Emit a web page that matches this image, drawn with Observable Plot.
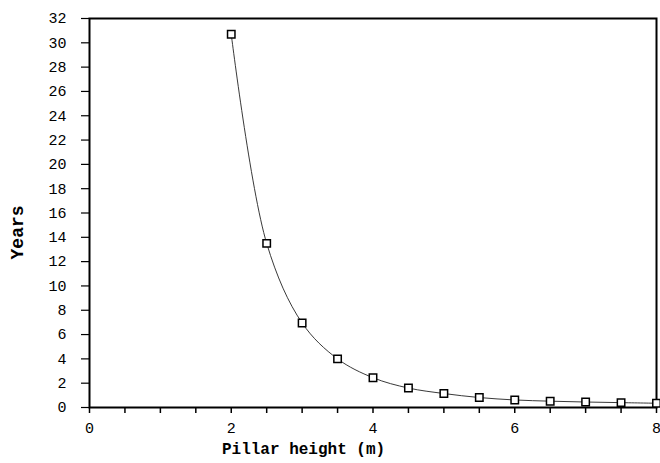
<!DOCTYPE html>
<html>
<head>
<meta charset="utf-8">
<script src="https://cdn.jsdelivr.net/npm/d3@7"></script>
<script src="https://cdn.jsdelivr.net/npm/@observablehq/plot@0.6"></script>
<style>
  html, body { margin: 0; padding: 0; background: #fff; }
  svg { display: block; }
</style>
</head>
<body>
<div id="chart"></div>
<script>
const pillarHeight = [2, 2.5, 3, 3.5, 4, 4.5, 5, 5.5, 6, 6.5, 7, 7.5, 8];
const years = [30.7, 13.5, 6.95, 4.0, 2.45, 1.6, 1.15, 0.82, 0.62, 0.52, 0.45, 0.4, 0.35];
const xTicks = [0, 0.5, 1, 1.5, 2, 2.5, 3, 3.5, 4, 4.5, 5, 5.5, 6, 6.5, 7, 7.5, 8];
const xTickLabels = [0, 2, 4, 6, 8];
const yTicks = [0, 2, 4, 6, 8, 10, 12, 14, 16, 18, 20, 22, 24, 26, 28, 30, 32];

const data = pillarHeight.map((x, i) => ({x, y: years[i]}));

const chart = Plot.plot({
  width: 660,
  height: 463,
  marginLeft: 89,
  marginRight: 4,
  marginTop: 18,
  marginBottom: 56,
  style: {fontFamily: "'Liberation Mono', 'DejaVu Sans Mono', monospace", fontSize: "15px", color: "#000", background: "#fff"},
  x: {domain: [0, 8]},
  y: {domain: [0, 32]},
  marks: [
    Plot.axisX({ticks: xTicks, tickSize: 6, tickPadding: 9, strokeWidth: 1.5,
      tickFormat: d => xTickLabels.includes(d) ? String(d) : "",
      fontSize: 15, label: null}),
    Plot.axisY({ticks: yTicks, tickSize: 8, tickPadding: 15, strokeWidth: 1.2, fontSize: 15, label: null}),
    Plot.text(["Pillar height (m)"], {frameAnchor: "bottom", x: 3.02, dy: 46, fontSize: 16, fontWeight: "bold", fill: "#000"}),
    Plot.text(["Years"], {x: 0, y: 14.4, dx: -72, rotate: -90, fontSize: 18, fontWeight: "bold", letterSpacing: "1.5px", fill: "#000"}),
    Plot.frame({strokeWidth: 2}),
    Plot.line(data, {x: "x", y: "y", curve: "catmull-rom", stroke: "#222", strokeWidth: 0.9}),
    Plot.dot(data, {x: "x", y: "y", symbol: "square", r: 4.2, fill: "white", stroke: "#000", strokeWidth: 1.5})
  ]
});
document.getElementById("chart").appendChild(chart);
</script>
</body>
</html>
